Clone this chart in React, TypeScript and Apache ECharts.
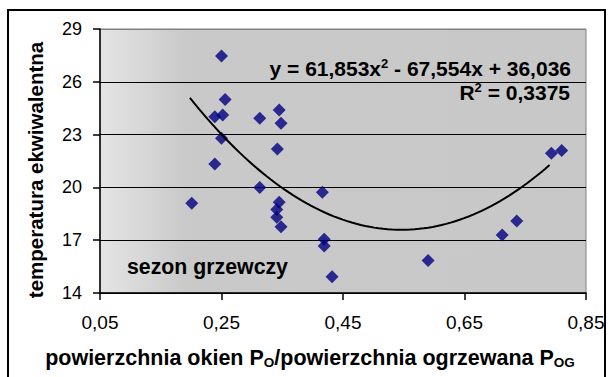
import React, { useEffect, useRef } from "react";
import * as echarts from "echarts";

const xValues = [
  0.201, 0.25, 0.256, 0.239, 0.252, 0.25, 0.239, 0.313, 0.345, 0.348, 0.342, 0.313,
  0.345, 0.341, 0.341, 0.348, 0.416, 0.419, 0.419, 0.432, 0.59, 0.712, 0.736, 0.793, 0.81,
];
const yValues = [
  19.1, 27.47, 25.0, 24.02, 24.11, 22.79, 21.33, 23.93, 24.4, 23.64, 22.18, 20.0,
  19.15, 18.75, 18.3, 17.77, 19.72, 17.05, 16.67, 14.93, 15.84, 17.3, 18.09, 21.94, 22.09,
];
// trend line y = a x^2 + b x + c (coefficients printed on the chart)
const trendCoef = [61.853, -67.554, 36.036];
const trendRange = [0.198, 0.79];
const equationText = ["y = 61,853x", "2", " - 67,554x + 36,036"];
const r2Text = ["R", "2", " = 0,3375"];
const seasonLabel = "sezon grzewczy";
const yTitle = "temperatura ekwiwalentna";
const xTitleParts = ["powierzchnia okien P", "O", "/powierzchnia ogrzewana P", "OG"];

const FONT = "'Liberation Sans', Arial, sans-serif";

export default function App() {
  const ref = useRef<HTMLDivElement>(null);
  useEffect(() => {
    if (!ref.current) return;
    const chart = echarts.init(ref.current, undefined, { renderer: "svg" });
    const trend: number[][] = [];
    const steps = 80;
    for (let i = 0; i <= steps; i++) {
      const x = trendRange[0] + ((trendRange[1] - trendRange[0]) * i) / steps;
      trend.push([x, trendCoef[0] * x * x + trendCoef[1] * x + trendCoef[2]]);
    }
    const makeRich = (size: number) => ({
      m: { fontFamily: FONT, fontWeight: "bold", fontSize: size, color: "#000", lineHeight: 24 },
      sup: { fontFamily: FONT, fontWeight: "bold", fontSize: 13, color: "#000", lineHeight: 24, padding: [0, 0, 10, 0] },
      sub: { fontFamily: FONT, fontWeight: "bold", fontSize: 13.5, color: "#000", lineHeight: 24, padding: [9, 0, 0, 0] },
    });
    chart.setOption({
      animation: false,
      grid: {
        left: 100,
        top: 29,
        width: 486,
        height: 264,
        show: true,
        borderColor: "#808080",
        borderWidth: 1,
        backgroundColor: new echarts.graphic.LinearGradient(0, 0, 1, 0, [
          { offset: 0, color: "#e4e4e4" },
          { offset: 0.18, color: "#c9c9c9" },
          { offset: 1, color: "#c8c8c8" },
        ]),
      },
      xAxis: {
        type: "value",
        min: 0.05,
        max: 0.85,
        interval: 0.2,
        axisLine: { show: true, lineStyle: { color: "#000", width: 1.5 } },
        axisTick: { show: true, length: 7, lineStyle: { color: "#000", width: 1.5 } },
        axisLabel: {
          fontSize: 19,
          fontFamily: FONT,
          color: "#000",
          margin: 20,
          showMaxLabel: true,
          formatter: (v: number) => v.toFixed(2).replace(".", ","),
        },
        splitLine: { show: false },
      },
      yAxis: {
        type: "value",
        min: 14,
        max: 29,
        interval: 3,
        axisLine: { show: true, lineStyle: { color: "#000", width: 1.5 } },
        axisTick: { show: true, length: 7, lineStyle: { color: "#000", width: 1.5 } },
        axisLabel: { fontSize: 18, fontFamily: FONT, color: "#000", margin: 18 },
        splitLine: {
          show: true,
          lineStyle: { color: ["#000", "#000", "#000", "#000", "#000", "#808080"], width: 1 },
        },
      },
      series: [
        {
          type: "scatter",
          data: xValues.map((x, i) => [x, yValues[i]]),
          symbol: "diamond",
          symbolSize: 13,
          itemStyle: { color: "#000080" },
          z: 2,
        },
        {
          type: "line",
          data: trend,
          showSymbol: false,
          symbol: "none",
          lineStyle: { color: "#000", width: 2 },
          z: 3,
        },
      ],
      graphic: [
        {
          type: "text",
          x: 571,
          y: 68,
          z: 10,
          style: {
            text: `{m|${equationText[0]}}{sup|${equationText[1]}}{m|${equationText[2]}}`,
            rich: makeRich(21),
            align: "right",
            verticalAlign: "middle",
          },
        },
        {
          type: "text",
          x: 570,
          y: 92,
          z: 10,
          style: {
            text: `{m|${r2Text[0]}}{sup|${r2Text[1]}}{m|${r2Text[2]}}`,
            rich: makeRich(21),
            align: "right",
            verticalAlign: "middle",
          },
        },
        {
          type: "text",
          x: 127,
          y: 267,
          z: 10,
          style: {
            text: seasonLabel,
            font: `bold 21.3px ${FONT}`,
            fill: "#000",
            align: "left",
            verticalAlign: "middle",
          },
        },
        {
          type: "text",
          x: 35,
          y: 170,
          rotation: Math.PI / 2,
          z: 10,
          style: {
            text: yTitle,
            font: `bold 20.5px ${FONT}`,
            fill: "#000",
            align: "center",
            verticalAlign: "middle",
          },
        },
        {
          type: "text",
          x: 310,
          y: 358,
          z: 10,
          style: {
            text: `{m|${xTitleParts[0]}}{sub|${xTitleParts[1]}}{m|${xTitleParts[2]}}{sub|${xTitleParts[3]}}`,
            rich: makeRich(21.5),
            align: "center",
            verticalAlign: "middle",
          },
        },
        {
          type: "rect",
          z: 20,
          shape: { x: 605, y: 0, width: 10, height: 377 },
          style: { fill: "#fff" },
        },
        {
          type: "rect",
          z: 21,
          shape: { x: 8, y: 10, width: 597, height: 420 },
          style: { fill: "none", stroke: "#000", lineWidth: 2 },
        },
      ],
    });
    return () => chart.dispose();
  }, []);
  return (
    <div
      ref={ref}
      style={{ position: "fixed", left: 0, top: 0, width: 610, height: 377, background: "#fff" }}
    />
  );
}
